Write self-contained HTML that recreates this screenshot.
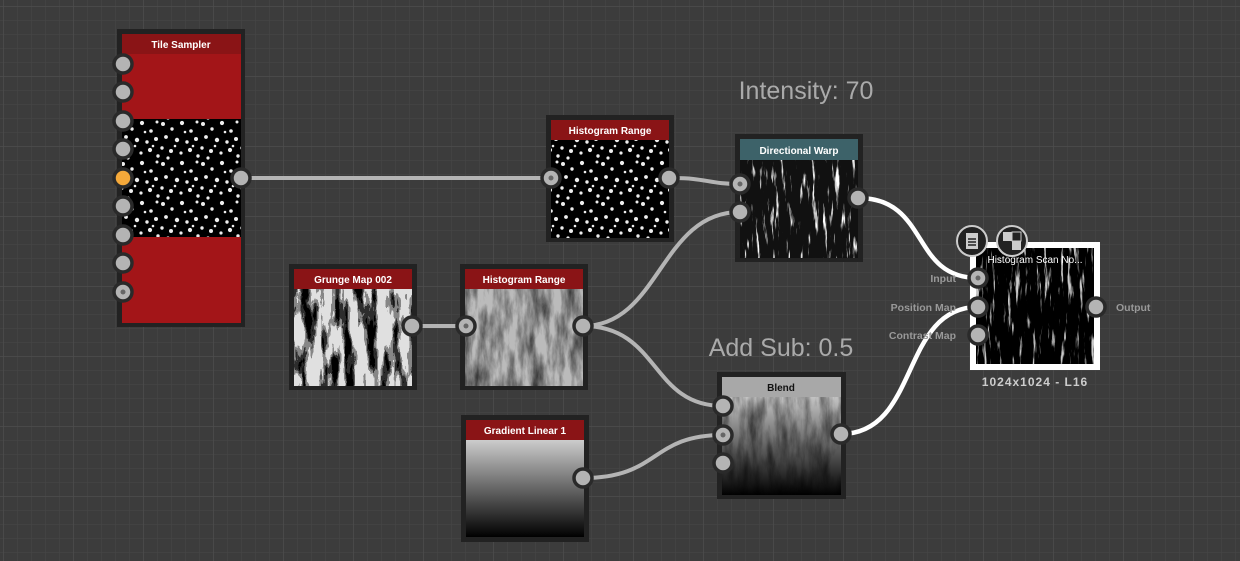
<!DOCTYPE html>
<html><head><meta charset="utf-8"><style>
html,body{margin:0;padding:0;background:#3c3c3c;overflow:hidden}
svg{display:block}
text{font-family:"Liberation Sans",sans-serif}
</style></head><body>
<svg width="1240" height="561" xmlns="http://www.w3.org/2000/svg">
<defs>
<pattern id="grid" width="14" height="14" patternUnits="userSpaceOnUse" x="3" y="6">
<path d="M14 0H0V14" fill="none" stroke="#474747" stroke-width="1"/>
</pattern>
<pattern id="grid2" width="70" height="70" patternUnits="userSpaceOnUse" x="3" y="6">
<path d="M70 0H0V70" fill="none" stroke="#4d4d4d" stroke-width="1.5"/>
</pattern>
<pattern id="stars" width="40" height="40" patternUnits="userSpaceOnUse">
<rect width="40" height="40" fill="#000"/>
<g fill="#eee">
<circle cx="3" cy="4" r="2"/><circle cx="12" cy="9" r="1.7"/><circle cx="22" cy="3" r="2.1"/><circle cx="31" cy="11" r="1.8"/><circle cx="37" cy="2" r="1.5"/>
<circle cx="6" cy="17" r="1.9"/><circle cx="17" cy="20" r="2.2"/><circle cx="27" cy="22" r="1.7"/><circle cx="36" cy="19" r="2"/>
<circle cx="2" cy="28" r="1.7"/><circle cx="11" cy="31" r="2"/><circle cx="21" cy="33" r="1.6"/><circle cx="30" cy="30" r="2.1"/><circle cx="38" cy="36" r="1.7"/>
<circle cx="8" cy="38" r="1.6"/><circle cx="25" cy="12" r="1.3"/><circle cx="15" cy="26" r="1.3"/><circle cx="33" cy="26" r="1.3"/>
</g></pattern>
<filter id="grunge" x="0" y="0" width="100%" height="100%">
<feTurbulence type="fractalNoise" baseFrequency="0.09 0.02" numOctaves="5" seed="3"/>
<feColorMatrix type="matrix" values="0 0 0 0 0  0 0 0 0 0  0 0 0 0 0  3 0 0 0 -1.2"/>
<feComponentTransfer><feFuncA type="discrete" tableValues="0 0.4 0.8 1"/></feComponentTransfer>
</filter>
<filter id="grunge2" x="0" y="0" width="100%" height="100%">
<feTurbulence type="fractalNoise" baseFrequency="0.1 0.025" numOctaves="5" seed="3"/>
<feColorMatrix type="matrix" values="0 0 0 0 0  0 0 0 0 0  0 0 0 0 0  2 0 0 0 -0.7"/>
</filter>
<filter id="warp" x="0" y="0" width="100%" height="100%">
<feTurbulence type="fractalNoise" baseFrequency="0.25 0.03" numOctaves="4" seed="7"/>
<feColorMatrix type="matrix" values="0 0 0 0 1  0 0 0 0 1  0 0 0 0 1  7 0 0 0 -4.2"/>
</filter>
<linearGradient id="glin" x1="0" y1="0" x2="0" y2="1"><stop offset="0" stop-color="#ccc"/><stop offset="1" stop-color="#000"/></linearGradient>
</defs>
<rect width="1240" height="561" fill="#3c3c3c"/>
<rect width="1240" height="561" fill="url(#grid)"/>
<rect width="1240" height="561" fill="url(#grid2)"/>

<!-- wires -->
<g fill="none" stroke="#b4b4b4" stroke-width="4">
<path d="M245 178H546"/>
<path d="M674 178C705 178 710 184 740 184"/>
<path d="M417 326H466"/>
<path d="M583 326C660 326 660 212 740 212"/>
<path d="M583 326C660 326 650 406 723 406"/>
<path d="M583 478C660 478 650 435 723 435"/>
</g>
<g fill="none" stroke="#fff" stroke-width="4.5">
<path d="M858 198C930 198 910 278 978 278"/>
<path d="M841 434C920 434 900 307 978 307"/>
</g>

<!-- Tile Sampler -->
<rect x="117" y="29" width="128" height="298" fill="#222"/>
<rect x="122" y="34" width="119" height="20" fill="#8a1416"/>
<rect x="122" y="54" width="119" height="65" fill="#a31518"/>
<rect x="122" y="119" width="119" height="118" fill="url(#stars)"/>
<rect x="122" y="237" width="119" height="86" fill="#a31518"/>
<text x="181" y="48" fill="#fff" font-size="10" text-anchor="middle" font-weight="bold">Tile Sampler</text>

<!-- Histogram Range 1 -->
<rect x="546" y="115" width="128" height="127" fill="#222"/>
<rect x="551" y="120" width="118" height="20" fill="#8a1416"/>
<rect x="551" y="140" width="118" height="98" fill="url(#stars)"/>
<text x="610" y="134" fill="#fff" font-size="10" text-anchor="middle" font-weight="bold">Histogram Range</text>

<!-- Directional Warp -->
<rect x="735" y="134" width="128" height="128" fill="#222"/>
<rect x="740" y="139" width="118" height="21" fill="#3d6269"/>
<rect x="740" y="160" width="118" height="98" fill="#111"/>
<rect x="740" y="160" width="118" height="98" filter="url(#warp)"/>
<text x="799" y="154" fill="#fff" font-size="10" text-anchor="middle" font-weight="bold">Directional Warp</text>

<!-- Grunge Map -->
<rect x="289" y="264" width="128" height="126" fill="#222"/>
<rect x="294" y="269" width="118" height="20" fill="#8a1416"/>
<rect x="294" y="289" width="118" height="97" fill="#e0e0e0"/>
<rect x="294" y="289" width="118" height="97" filter="url(#grunge)"/>
<text x="353" y="283" fill="#fff" font-size="10" text-anchor="middle" font-weight="bold">Grunge Map 002</text>

<!-- Histogram Range 2 -->
<rect x="460" y="264" width="128" height="126" fill="#222"/>
<rect x="465" y="269" width="118" height="20" fill="#8a1416"/>
<rect x="465" y="289" width="118" height="97" fill="#bbb"/>
<rect x="465" y="289" width="118" height="97" filter="url(#grunge2)" opacity="0.7"/>
<text x="524" y="283" fill="#fff" font-size="10" text-anchor="middle" font-weight="bold">Histogram Range</text>

<!-- Gradient Linear -->
<rect x="461" y="415" width="128" height="127" fill="#222"/>
<rect x="466" y="420" width="118" height="20" fill="#8a1416"/>
<rect x="466" y="440" width="118" height="97" fill="url(#glin)"/>
<text x="525" y="434" fill="#fff" font-size="10" text-anchor="middle" font-weight="bold">Gradient Linear 1</text>

<!-- Blend -->
<rect x="717" y="372" width="129" height="127" fill="#222"/>
<rect x="722" y="377" width="119" height="20" fill="#a8a8a8"/>
<rect x="722" y="397" width="119" height="98" fill="url(#glin)" opacity="0.95"/>
<rect x="722" y="397" width="119" height="98" filter="url(#grunge2)" opacity="0.55"/>
<text x="781" y="391" fill="#111" font-size="10" text-anchor="middle" font-weight="bold">Blend</text>

<!-- Histogram Scan -->
<rect x="970" y="242" width="130" height="128" fill="#fff"/>
<rect x="976" y="248" width="118" height="116" fill="#000"/>
<rect x="976" y="248" width="118" height="116" filter="url(#warp)" opacity="0.8"/>
<text x="1035" y="263" fill="#fff" font-size="10" text-anchor="middle">Histogram Scan No...</text>
<text x="1035" y="386" fill="#ccc" font-size="12" text-anchor="middle" font-weight="bold" letter-spacing="1">1024x1024 - L16</text>
<g font-size="10.5" font-weight="bold" fill="#999" text-anchor="end">
<text x="956" y="282">Input</text><text x="956" y="311">Position Map</text><text x="956" y="339">Contrast Map</text>
</g>
<text x="1116" y="311" font-size="10.5" font-weight="bold" fill="#999">Output</text>
<g stroke="#ccc" stroke-width="2" fill="#222">
<circle cx="972" cy="241" r="15"/><circle cx="1012" cy="241" r="15"/>
</g>
<rect x="966" y="233" width="12" height="16" fill="#ccc"/>
<g stroke="#222" stroke-width="1.5"><path d="M968 239h8M968 242h8M968 245h8"/></g>
<rect x="1003" y="232" width="9" height="9" fill="#ccc"/><rect x="1012" y="241" width="9" height="9" fill="#ccc"/>
<rect x="1012" y="232" width="9" height="9" fill="#222" stroke="#ccc"/>

<text x="806" y="99" fill="#aaa" font-size="25" text-anchor="middle">Intensity: 70</text>
<text x="781" y="356" fill="#aaa" font-size="25" text-anchor="middle">Add Sub: 0.5</text>

<!-- sockets -->
<g fill="#b4b4b4" stroke="#2a2a2a" stroke-width="3.5">
<circle cx="123" cy="64" r="9"/><circle cx="123" cy="92" r="9"/><circle cx="123" cy="121" r="9"/><circle cx="123" cy="149" r="9"/>
<circle cx="123" cy="178" r="9" fill="#f5a93a"/><circle cx="123" cy="206" r="9"/><circle cx="123" cy="235" r="9"/><circle cx="123" cy="263" r="9"/><circle cx="123" cy="292" r="9"/>
<circle cx="241" cy="178" r="9"/>
<circle cx="551" cy="178" r="9"/><circle cx="669" cy="178" r="9"/>
<circle cx="740" cy="184" r="9"/><circle cx="740" cy="212" r="9"/><circle cx="858" cy="198" r="9"/>
<circle cx="412" cy="326" r="9"/><circle cx="466" cy="326" r="9"/><circle cx="583" cy="326" r="9"/>
<circle cx="583" cy="478" r="9"/>
<circle cx="723" cy="406" r="9"/><circle cx="723" cy="435" r="9"/><circle cx="723" cy="463" r="9"/><circle cx="841" cy="434" r="9"/>
<circle cx="978" cy="278" r="9"/><circle cx="978" cy="307" r="9"/><circle cx="978" cy="335" r="9"/><circle cx="1096" cy="307" r="9"/>
</g>
<g fill="#666">
<circle cx="123" cy="292" r="2.5"/><circle cx="551" cy="178" r="2.5"/><circle cx="740" cy="184" r="2.5"/><circle cx="466" cy="326" r="2.5"/><circle cx="723" cy="435" r="2.5"/><circle cx="978" cy="278" r="2.5"/>
</g>
</svg>
</body></html>
